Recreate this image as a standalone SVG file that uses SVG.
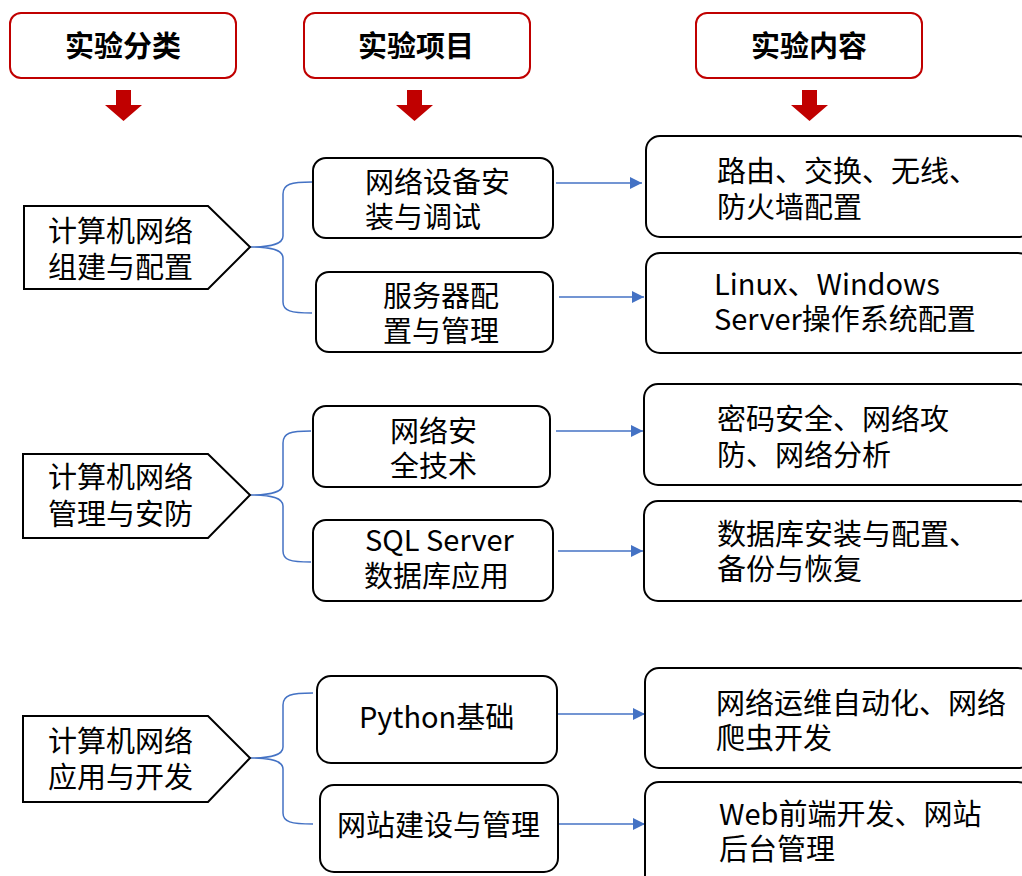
<svg xmlns="http://www.w3.org/2000/svg" width="1022" height="876" viewBox="0 0 1022 876">
<defs>
<style>
.hdr{fill:#fff;stroke:#C00000;stroke-width:2}
.ht{font-family:"Noto Sans CJK SC","Noto Sans",sans-serif;font-weight:700;font-size:29px;fill:#000;text-anchor:middle}
.ra{fill:#C00000}
.box{fill:#fff;stroke:#000;stroke-width:2}
.pent{fill:#fff;stroke:#000;stroke-width:2}
.t{font-family:"Noto Sans CJK SC","Noto Sans",sans-serif;font-size:29px;fill:#000}
.br{fill:none;stroke:#4472C4;stroke-width:1.5}
.ar{fill:none;stroke:#4472C4;stroke-width:1.3;marker-end:url(#ah)}
</style>
<marker id="ah" viewBox="0 0 10 10" refX="10" refY="5" markerWidth="12" markerHeight="12" markerUnits="userSpaceOnUse" orient="auto">
<path d="M0,0 L10,5 L0,10 Z" fill="#4472C4"/>
</marker>
</defs>

<g id="header1"><rect class="hdr" x="10" y="13" width="226" height="65" rx="11"/><text class="ht" x="123" y="57">实验分类</text></g>
<g id="header2"><rect class="hdr" x="304" y="13" width="226" height="65" rx="11"/><text class="ht" x="416" y="57">实验项目</text></g>
<g id="header3"><rect class="hdr" x="696" y="13" width="226" height="65" rx="11"/><text class="ht" x="809" y="57">实验内容</text></g>

<g id="downarrows">
<path class="ra" d="M116,90 H131 V105 H142 L123.5,121 L105,105 H116 Z"/>
<path class="ra" d="M407,90 H422 V105 H433 L414.5,121 L396,105 H407 Z"/>
<path class="ra" d="M802,90 H817 V105 H828 L809.5,121 L791,105 H802 Z"/>
</g>

<g id="connectors">
<path class="br" d="M312,182 C291,182 283,184 283,194 L283,236 C283,244 272,247 250,247 C272,247 283,250 283,258 L283,302 C283,311 291,313 312,313"/>
<path class="br" d="M311,431 C290,431 283,433 283,443 L283,484 C283,492 272,495 250,495 C272,495 283,498 283,506 L283,551 C283,560 290,562 311,562"/>
<path class="br" d="M313,693 C291,693 283,695 283,705 L283,747 C283,755 272,758 250,758 C272,758 283,761 283,769 L283,813 C283,822 291,824 313,824"/>
<line class="ar" x1="556" y1="183" x2="642" y2="183"/>
<line class="ar" x1="559" y1="297" x2="644" y2="297"/>
<line class="ar" x1="556" y1="431" x2="643" y2="431"/>
<line class="ar" x1="558" y1="551" x2="643" y2="551"/>
<line class="ar" x1="558" y1="714" x2="645" y2="714"/>
<line class="ar" x1="558" y1="824" x2="645" y2="824"/>
</g>

<g id="cat1"><path class="pent" d="M24,206 H208 L250,247 L208,289 H24 Z"/><text class="t" x="48" y="242">计算机网络</text><text class="t" x="48" y="278">组建与配置</text></g>
<g id="cat2"><path class="pent" d="M23,454 H208 L250,495 L208,538 H23 Z"/><text class="t" x="48" y="488">计算机网络</text><text class="t" x="48" y="525">管理与安防</text></g>
<g id="cat3"><path class="pent" d="M23,716 H208 L250,758 L208,802 H23 Z"/><text class="t" x="48" y="752">计算机网络</text><text class="t" x="48" y="788">应用与开发</text></g>

<g id="item1"><rect class="box" x="313" y="158" width="240" height="80" rx="13"/><text class="t" x="365" y="193">网络设备安</text><text class="t" x="365" y="228">装与调试</text></g>
<g id="item2"><rect class="box" x="316" y="272" width="237" height="80" rx="13"/><text class="t" x="383" y="307">服务器配</text><text class="t" x="383" y="342">置与管理</text></g>
<g id="item3"><rect class="box" x="313" y="406" width="237" height="81" rx="13"/><text class="t" x="390" y="442">网络安</text><text class="t" x="390" y="477">全技术</text></g>
<g id="item4"><rect class="box" x="313" y="520" width="240" height="81" rx="13"/><text class="t" x="365" y="551">SQL Server</text><text class="t" x="364" y="587">数据库应用</text></g>
<g id="item5"><rect class="box" x="317" y="676" width="240" height="87" rx="14"/><text class="t" x="359" y="728">Python基础</text></g>
<g id="item6"><rect class="box" x="320" y="785" width="238" height="87" rx="14"/><text class="t" x="337" y="836">网站建设与管理</text></g>

<g id="content1"><rect class="box" x="646" y="136" width="386" height="101" rx="14"/><text class="t" x="717" y="182">路由、交换、无线、</text><text class="t" x="717" y="218">防火墙配置</text></g>
<g id="content2"><rect class="box" x="646" y="253" width="386" height="100" rx="14"/><text class="t" x="714" y="295">Linux、Windows</text><text class="t" x="714" y="330">Server操作系统配置</text></g>
<g id="content3"><rect class="box" x="644" y="384" width="388" height="101" rx="14"/><text class="t" x="717" y="430">密码安全、网络攻</text><text class="t" x="717" y="466">防、网络分析</text></g>
<g id="content4"><rect class="box" x="644" y="501" width="388" height="100" rx="14"/><text class="t" x="717" y="545">数据库安装与配置、</text><text class="t" x="717" y="580">备份与恢复</text></g>
<g id="content5"><rect class="box" x="645" y="668" width="387" height="100" rx="14"/><text class="t" x="716" y="714">网络运维自动化、网络</text><text class="t" x="716" y="749">爬虫开发</text></g>
<g id="content6"><rect class="box" x="645" y="782" width="387" height="110" rx="14"/><text class="t" x="719" y="825">Web前端开发、网站</text><text class="t" x="719" y="860">后台管理</text></g>
</svg>
